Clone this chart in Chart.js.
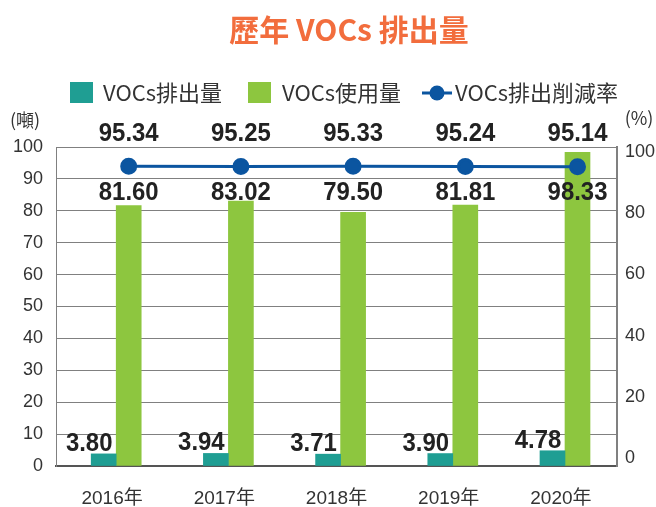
<!DOCTYPE html>
<html>
<head>
<meta charset="utf-8">
<script src="https://cdn.jsdelivr.net/npm/chart.js@4.4.0/dist/chart.umd.min.js"></script>
<style>
  html, body { margin: 0; padding: 0; background: #fff; }
  #wrap { width: 656px; height: 507px; }
</style>
</head>
<body>
<div id="wrap"><canvas id="vocChart" width="656" height="507"></canvas></div>
<script>
// 年度與數值
const years = ['2016年', '2017年', '2018年', '2019年', '2020年'];
const emission = [3.80, 3.94, 3.71, 3.90, 4.78];      // VOCs排出量 (噸)
const usage = [81.60, 83.02, 79.50, 81.81, 98.33];     // VOCs使用量 (噸)
const reduction = [95.34, 95.25, 95.33, 95.24, 95.14]; // VOCs排出削減率 (%)
const leftTicks = [0, 10, 20, 30, 40, 50, 60, 70, 80, 90, 100];
const rightTicks = [0, 20, 40, 60, 80, 100];

const TEAL = '#1f9e93';
const GREEN = '#8dc63f';
const BLUE = '#0b55a0';
const ORANGE = '#f26d3d';
const numFont = 'bold 26px "Liberation Sans", Arial, sans-serif';
const cjk = '"Noto Sans CJK TC", "Noto Sans CJK SC", sans-serif';
const tickFamily = '"Liberation Sans", Arial, "Noto Sans CJK TC", sans-serif';
// 長條相對年度中心的位移 (以類別寬度計)
const tealShift = -0.075;
const greenShift = 0.148;

// 窄體粗字數值
function narrowText(ctx, text, x, y) {
    ctx.save();
    ctx.translate(x, y);
    ctx.scale(0.92, 1);
    ctx.fillText(text, 0, 0);
    ctx.restore();
}

// 標題、圖例、單位及數值標籤
const decorations = {
    id: 'decorations',
    afterDraw(chart) {
        const ctx = chart.ctx;
        const area = chart.chartArea;
        const y = chart.scales.y;
        ctx.save();

        // 標題
        ctx.fillStyle = ORANGE;
        ctx.font = 'bold 30px ' + cjk;
        ctx.textAlign = 'center';
        ctx.textBaseline = 'middle';
        ctx.fillText('歷年 VOCs 排出量', 349, 30);

        // 圖例
        ctx.font = '22px ' + cjk;
        ctx.textAlign = 'left';
        ctx.fillStyle = TEAL;
        ctx.fillRect(70, 82, 23, 21);
        ctx.fillStyle = '#333';
        ctx.fillText('VOCs排出量', 103, 93);
        ctx.fillStyle = GREEN;
        ctx.fillRect(248, 82, 23, 21);
        ctx.fillStyle = '#333';
        ctx.fillText('VOCs使用量', 282, 93);
        ctx.strokeStyle = BLUE;
        ctx.lineWidth = 3;
        ctx.beginPath();
        ctx.moveTo(422, 93);
        ctx.lineTo(452, 93);
        ctx.stroke();
        ctx.fillStyle = BLUE;
        ctx.beginPath();
        ctx.arc(437, 93, 7.5, 0, Math.PI * 2);
        ctx.fill();
        ctx.fillStyle = '#333';
        ctx.fillText('VOCs排出削減率', 455, 93);

        // 單位
        ctx.font = '18px ' + cjk;
        ctx.textAlign = 'center';
        ctx.fillText('(噸)', 25, 120);
        ctx.fillText('(%)', 639, 118);

        // 數值標籤
        ctx.font = numFont;
        ctx.fillStyle = '#222';
        const tealMeta = chart.getDatasetMeta(0);
        const greenMeta = chart.getDatasetMeta(1);
        years.forEach((yr, i) => {
            const gx = greenMeta.data[i].x;
            ctx.textAlign = 'center';
            ctx.textBaseline = 'middle';
            narrowText(ctx, reduction[i].toFixed(2), gx, area.top - 13);
            narrowText(ctx, usage[i].toFixed(2), gx, y.getPixelForValue(85.5));
            const tb = tealMeta.data[i];
            ctx.textBaseline = 'alphabetic';
            narrowText(ctx, emission[i].toFixed(2), tb.x - 14.5, tb.y - 3);
        });
        ctx.restore();
    }
};

const vocChart = new Chart(document.getElementById('vocChart').getContext('2d'), {
    data: {
        labels: years,
        datasets: [
            {
                type: 'bar',
                label: 'VOCs排出量',
                data: emission.map((v, i) => ({ x: i + tealShift, y: v })),
                backgroundColor: TEAL,
                yAxisID: 'y',
                xAxisID: 'xPos',
                grouped: false,
                barThickness: 25,
                order: 2
            },
            {
                type: 'bar',
                label: 'VOCs使用量',
                data: usage.map((v, i) => ({ x: i + greenShift, y: v })),
                backgroundColor: GREEN,
                yAxisID: 'y',
                xAxisID: 'xPos',
                grouped: false,
                barThickness: 25,
                order: 2
            },
            {
                type: 'line',
                label: 'VOCs排出削減率',
                data: reduction.map((v, i) => ({ x: i + greenShift, y: v })),
                borderColor: BLUE,
                backgroundColor: BLUE,
                borderWidth: 3,
                pointRadius: 7,
                pointHoverRadius: 7,
                yAxisID: 'y1',
                xAxisID: 'xPos',
                order: 1
            }
        ]
    },
    options: {
        responsive: false,
        animation: false,
        layout: { padding: { top: 147, left: 0, right: 0, bottom: 0 } },
        plugins: {
            legend: { display: false },
            title: { display: false },
            tooltip: { enabled: false }
        },
        scales: {
            x: {
                type: 'category',
                offset: true,
                grid: { display: false },
                border: { display: true, color: '#555', width: 2 },
                ticks: {
                    color: '#333',
                    font: { size: 19, family: tickFamily },
                    padding: 13
                },
                afterFit(s) { s.height = 41; }
            },
            xPos: {
                type: 'linear',
                display: false,
                offset: false,
                grid: { offset: false },
                min: -0.5,
                max: 4.5,
                afterBuildTicks(s) { s.ticks = years.map((yr, i) => ({ value: i })); }
            },
            y: {
                position: 'left',
                min: 0,
                max: 100,
                afterBuildTicks(s) { s.ticks = leftTicks.map(v => ({ value: v })); },
                grid: { color: '#808080', lineWidth: 1, drawTicks: false },
                border: { display: true, color: '#808080', width: 1 },
                ticks: {
                    color: '#333',
                    font: { size: 18, family: tickFamily },
                    padding: 13
                },
                afterFit(s) { s.width = 56; }
            },
            y1: {
                position: 'right',
                min: -2.6,
                max: 101.6,
                afterBuildTicks(s) { s.ticks = rightTicks.map(v => ({ value: v })); },
                grid: { drawOnChartArea: false, drawTicks: false },
                border: { display: true, color: '#808080', width: 2 },
                ticks: {
                    color: '#333',
                    font: { size: 18, family: tickFamily },
                    padding: 8
                },
                afterFit(s) { s.width = 39; }
            }
        }
    },
    plugins: [decorations]
});
</script>
</body>
</html>
